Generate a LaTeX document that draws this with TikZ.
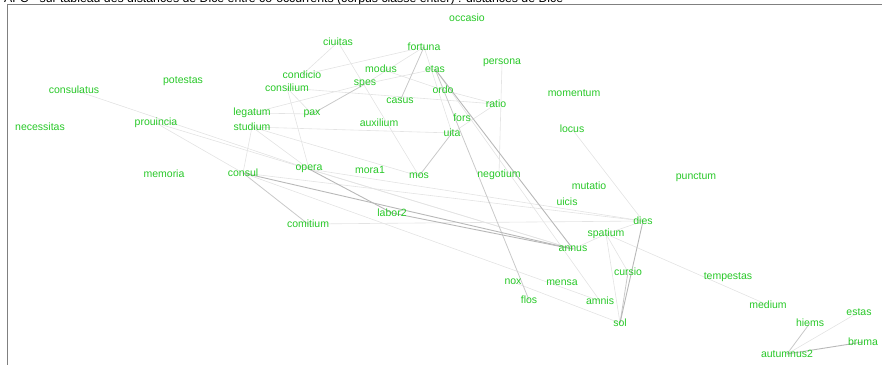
\documentclass[tikz,border=0pt]{standalone}
\usepackage{fontspec}
\setmainfont{Liberation Sans}
\usepackage{tikz}
\usetikzlibrary{backgrounds}
\definecolor{vert}{RGB}{40,200,40}

\begin{document}
\begin{tikzpicture}[x=1pt,y=-1pt,
   mot/.style={text=vert,inner sep=0pt,font=\fontsize{10.5}{12}\selectfont},
   lien/.style={draw=black!11,line width=0.6pt},
   moyen/.style={draw=black!21,line width=0.8pt},
   fort/.style={draw=black!28,line width=0.9pt}]
   \useasboundingbox (0,0) rectangle (882,364);
   \node[anchor=base west,inner sep=0pt,font=\fontsize{12.3}{14}\selectfont] (titre) at (4,2.6)
      {AFC - sur tableau des distances de Dice entre co-occurrents (corpus classe entier) : distances de Dice};
   \draw[black!50,line width=0.9pt] (7,4.7) rectangle (900,380);

   \node[mot] (occasio) at (467,18) {occasio};
   \node[mot] (ciuitas) at (338,42) {ciuitas};
   \node[mot] (fortuna) at (424,47) {fortuna};
   \node[mot] (persona) at (502,63) {persona};
   \node[mot] (modus) at (381,69) {modus};
   \node[mot] (etas) at (435,69) {etas};
   \node[mot] (condicio) at (302,75) {condicio};
   \node[mot] (potestas) at (183,81) {potestas};
   \node[mot] (spes) at (365,84) {spes};
   \node[mot] (consilium) at (287,88) {consilium};
   \node[mot] (consulatus) at (74,90) {consulatus};
   \node[mot] (ordo) at (443,90) {ordo};
   \node[mot] (momentum) at (574,93) {momentum};
   \node[mot] (casus) at (400,101) {casus};
   \node[mot] (ratio) at (496,104) {ratio};
   \node[mot] (legatum) at (252,113) {legatum};
   \node[mot] (pax) at (312,114) {pax};
   \node[mot] (fors) at (462,118) {fors};
   \node[mot] (prouincia) at (156,123) {prouincia};
   \node[mot] (auxilium) at (379,123) {auxilium};
   \node[mot] (necessitas) at (40,127) {necessitas};
   \node[mot] (studium) at (252,127) {studium};
   \node[mot] (locus) at (572,129) {locus};
   \node[mot] (uita) at (452,133) {uita};
   \node[mot] (opera) at (309,169) {opera};
   \node[mot] (mora1) at (370,170) {mora1};
   \node[mot] (consul) at (243,173) {consul};
   \node[mot] (memoria) at (164,174) {memoria};
   \node[mot] (negotium) at (499,175) {negotium};
   \node[mot] (mos) at (419,176) {mos};
   \node[mot] (punctum) at (696,177) {punctum};
   \node[mot] (mutatio) at (589,186) {mutatio};
   \node[mot] (uicis) at (567,202) {uicis};
   \node[mot] (labor2) at (392,213) {labor2};
   \node[mot] (dies) at (643,221) {dies};
   \node[mot] (comitium) at (308,224) {comitium};
   \node[mot] (spatium) at (606,234) {spatium};
   \node[mot] (annus) at (573,249) {annus};
   \node[mot] (cursio) at (628,272) {cursio};
   \node[mot] (tempestas) at (728,277) {tempestas};
   \node[mot] (nox) at (513,282) {nox};
   \node[mot] (mensa) at (562,283) {mensa};
   \node[mot] (flos) at (529,300) {flos};
   \node[mot] (amnis) at (600,301) {amnis};
   \node[mot] (medium) at (768,305) {medium};
   \node[mot] (estas) at (859,312) {estas};
   \node[mot] (sol) at (620,323) {sol};
   \node[mot] (hiems) at (810,323) {hiems};
   \node[mot] (bruma) at (863,342) {bruma};
   \node[mot] (autumnus2) at (787,354) {autumnus2};

   \begin{scope}[on background layer]
   \path[lien]
    (consulatus.center) edge (opera.center)
    (prouincia.center) edge (consul.center)
                       edge (annus.center)
    (legatum.center) edge (pax.center)
                     edge (spes.center)
    (studium.center) edge (uita.center)
                     edge (mos.center)
                     edge (consul.center)
                     edge (opera.center)
    (consilium.center) edge (opera.center)
                       edge (pax.center)
                       edge (ratio.center)
    (ciuitas.center) edge (condicio.center)
                     edge (mos.center)
    (fortuna.center) edge (condicio.center)
                     edge (spes.center)
                     edge (uita.center)
    (modus.center) edge (ordo.center)
    (ordo.center) edge (ratio.center)
    (spes.center) edge (etas.center)
    (uita.center) edge (ratio.center)
    (persona.center) edge (negotium.center)
    (etas.center) edge (amnis.center)
    (consul.center) edge (dies.center)
                    edge (amnis.center)
    (opera.center) edge (dies.center)
                   edge (annus.center)
    (comitium.center) edge (dies.center)
    (locus.center) edge (dies.center)
    (spatium.center) edge (annus.center)
                     edge (dies.center)
                     edge (cursio.center)
                     edge (sol.center)
                     edge (medium.center)
    (nox.center) edge (sol.center)
    (autumnus2.center) edge (estas.center);
   \path[moyen]
    (spes.center) edge (pax.center)
    (fortuna.center) edge (casus.center)
    (uita.center) edge (mos.center)
    (etas.center) edge (flos.center)
    (consul.center) edge (comitium.center)
    (cursio.center) edge (sol.center)
    (autumnus2.center) edge (hiems.center);
   \path[fort]
    (etas.center) edge (annus.center)
    (consul.center) edge (annus.center)
    (opera.center) edge (labor2.center)
    (labor2.center) edge (annus.center)
    (dies.center) edge (sol.center)
    (autumnus2.center) edge (bruma.center);
   \end{scope}
\end{tikzpicture}
\end{document}
